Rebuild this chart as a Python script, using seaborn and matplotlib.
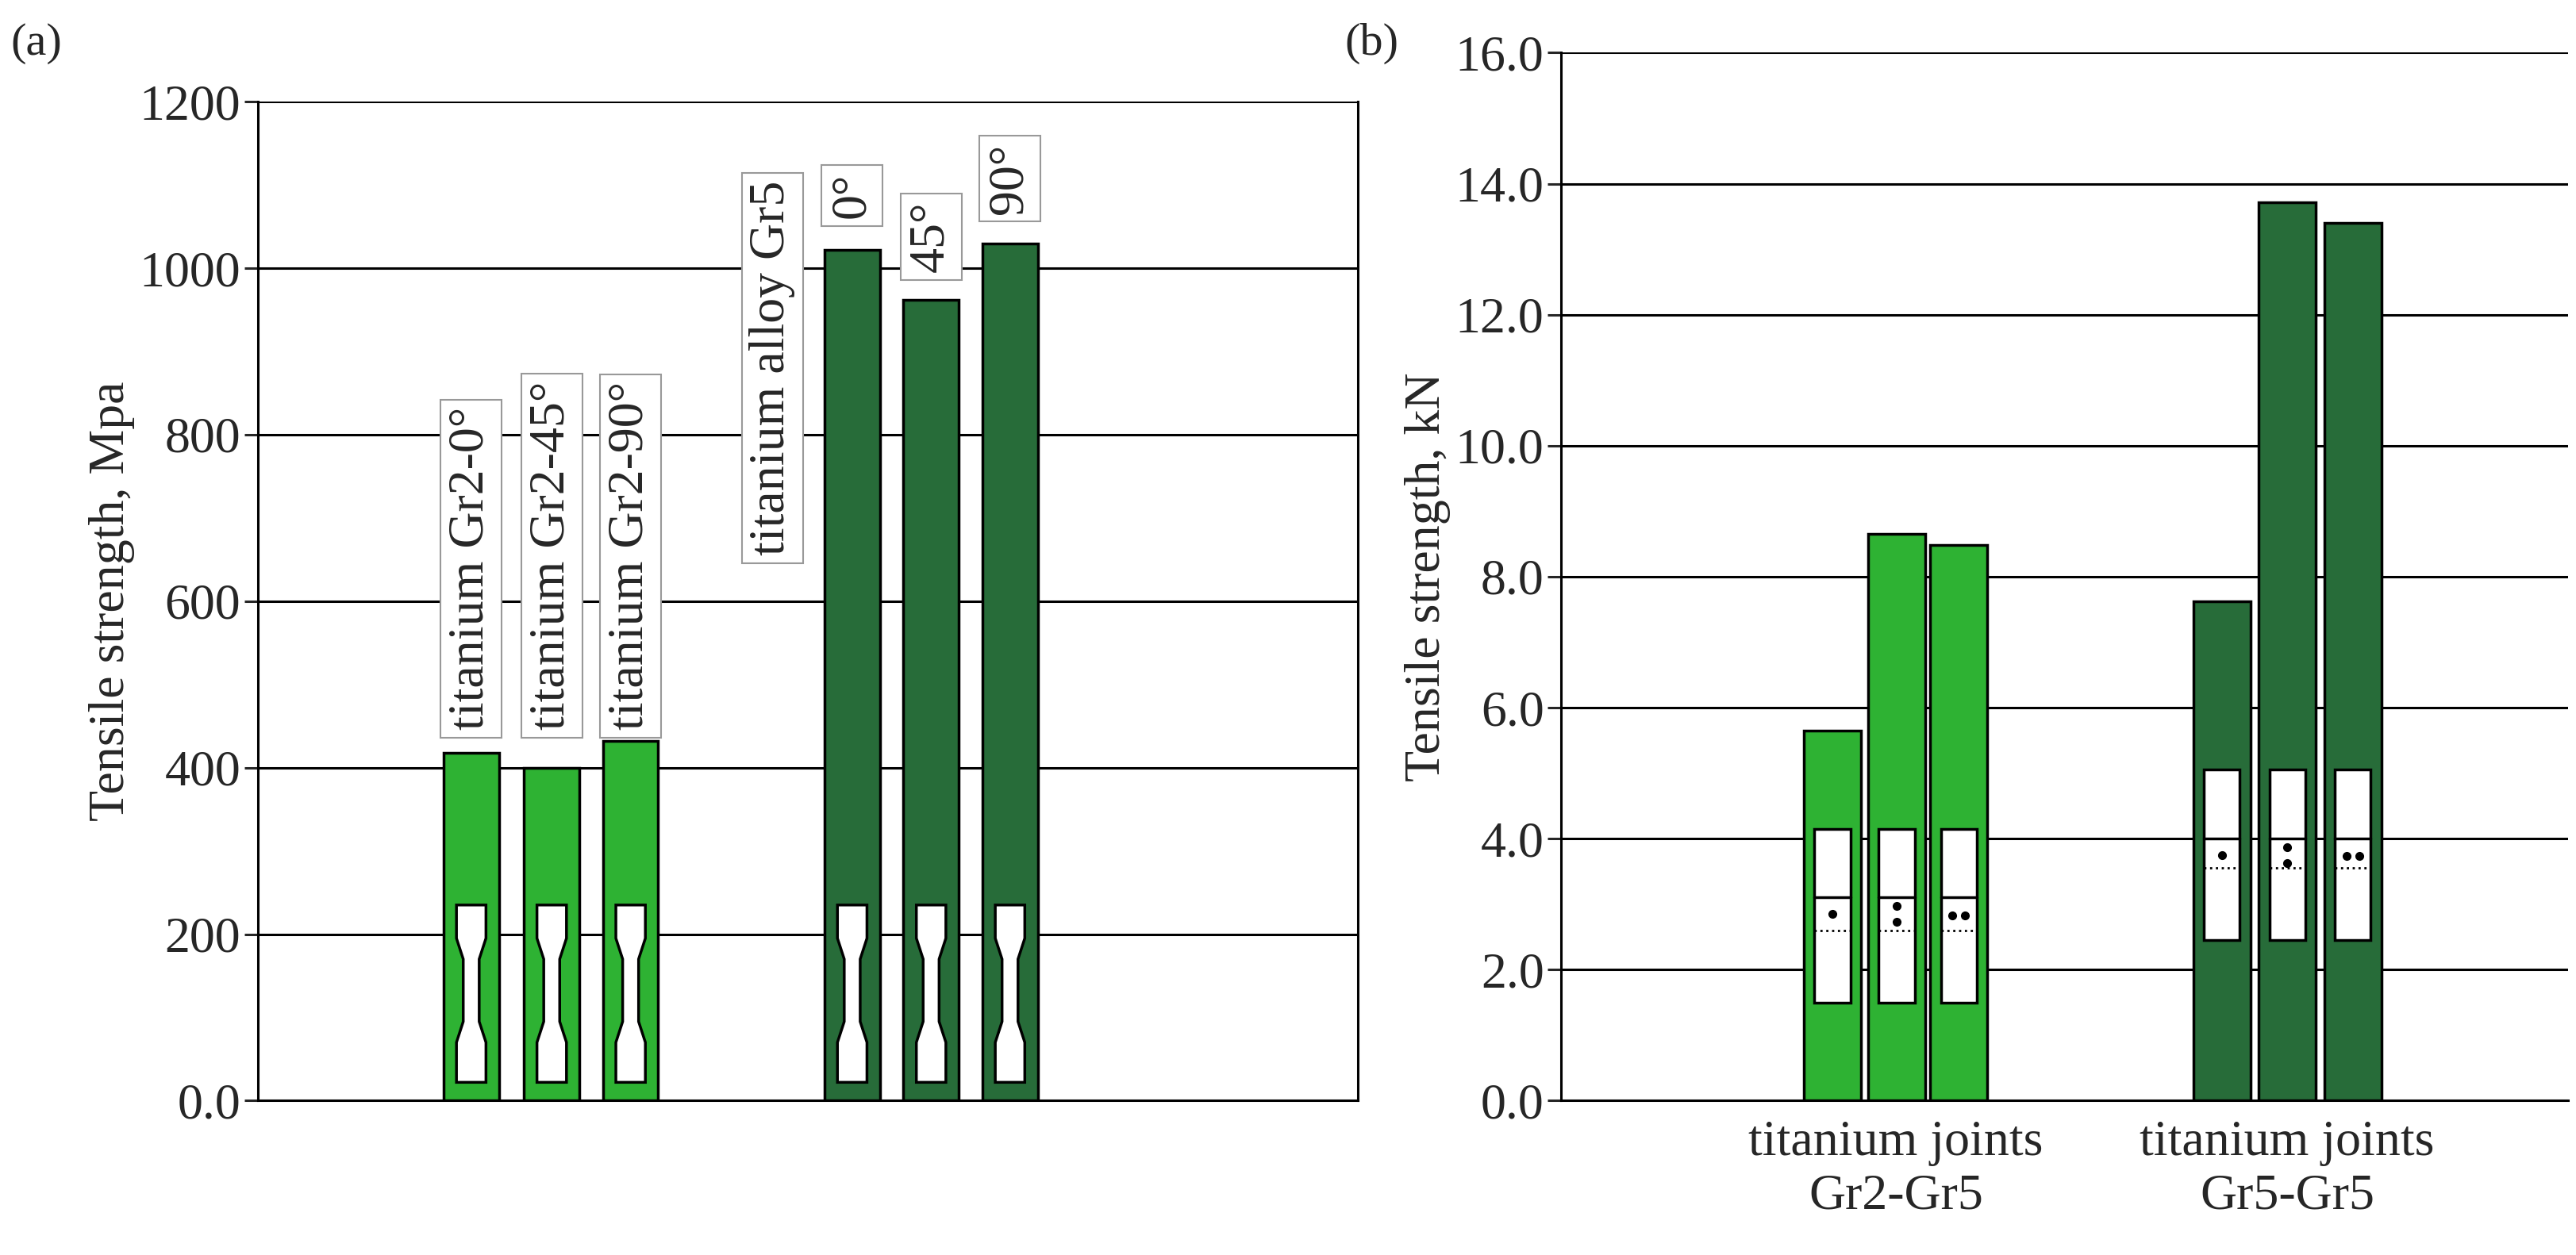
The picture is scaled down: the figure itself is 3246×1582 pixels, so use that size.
import numpy as np
import pandas as pd
import seaborn as sns
import matplotlib.pyplot as plt
from matplotlib.patches import Polygon, Rectangle

# data
a_labels = ["titanium Gr2-0°", "titanium Gr2-45°", "titanium Gr2-90°", "0°", "45°", "90°"]
a_values = [418, 400, 432, 1022, 962, 1030]
a_group = ["Gr2", "Gr2", "Gr2", "Gr5", "Gr5", "Gr5"]
b_groups = ["titanium joints\nGr2-Gr5", "titanium joints\nGr5-Gr5"]
b_values = [5.65, 8.65, 8.48, 7.62, 13.72, 13.4]
b_group = ["Gr2", "Gr2", "Gr2", "Gr5", "Gr5", "Gr5"]

LIGHT = "#18C81E"
DARK = "#1B7834"
colors = {"Gr2": LIGHT, "Gr5": DARK}

sns.set_style("white")
plt.rcParams['font.family'] = ['Liberation Serif', 'DejaVu Serif']
FS = 46

fig = plt.figure(figsize=(32.46, 15.82), dpi=100)
ax1 = fig.add_axes([0.100, 0.123, 0.427, 0.796])
ax2 = fig.add_axes([0.606, 0.123, 0.391, 0.835])

# layout positions
a_pos = [2.68, 3.69, 4.68, 7.46, 8.45, 9.44]
b_pos = [4.23, 5.23, 6.2, 10.3, 11.32, 12.34]

df_a = pd.DataFrame({"x": a_pos, "y": a_values, "g": a_group})
df_b = pd.DataFrame({"x": b_pos, "y": b_values, "g": b_group})

sns.barplot(data=df_a, x="x", y="y", hue="g", palette=colors, native_scale=True,
            width=0.7, edgecolor="black", linewidth=2.5, legend=False, ax=ax1, zorder=3)
sns.barplot(data=df_b, x="x", y="y", hue="g", palette=colors, native_scale=True,
            width=0.92, edgecolor="black", linewidth=2.5, legend=False, ax=ax2, zorder=3)

for ax in (ax1, ax2):
    ax.set_xlabel("")
    ax.yaxis.grid(True, color="black", linewidth=2.2, zorder=0)
    ax.set_axisbelow(True)
    for s in ax.spines.values():
        s.set_color("black")
        s.set_linewidth(2.2)
    ax.tick_params(axis="y", direction="out", length=12, width=2.2, labelsize=FS, left=True)

# panel (a)
ax1.set_xlim(0, 13.8)
ax1.set_ylim(0, 1200)
ax1.set_yticks(range(0, 1201, 200))
ax1.set_yticklabels(["0.0"] + [str(v) for v in range(200, 1201, 200)])
ax1.set_xticks([])
ax1.spines["top"].set_visible(False)
ax1.set_ylabel("Tensile strength, Mpa", fontsize=FS)

for x in a_pos:
    hw, nw = 0.185, 0.1
    pts = [(x - hw, 22), (x + hw, 22), (x + hw, 70), (x + nw, 95), (x + nw, 170),
           (x + hw, 195), (x + hw, 235), (x - hw, 235), (x - hw, 195), (x - nw, 170),
           (x - nw, 95), (x - hw, 70)]
    ax1.add_patch(Polygon(pts, closed=True, facecolor="white", edgecolor="black",
                          linewidth=2.5, zorder=4))

box = dict(boxstyle="square,pad=0.15", facecolor="white", edgecolor="#999999", linewidth=1.5)
for x, lab in zip(a_pos[:3], a_labels[:3]):
    ax1.text(x, 445, lab, rotation=90, ha="center", va="bottom", fontsize=FS, bbox=box, zorder=5)
ax1.text(a_pos[3] - 1.0, 655, "titanium alloy Gr5", rotation=90, ha="center", va="bottom",
         fontsize=FS, bbox=box, zorder=5)
for x, lab, y in zip(a_pos[3:], a_labels[3:], [1060, 995, 1065]):
    ax1.text(x, y, lab, rotation=90, ha="center", va="bottom", fontsize=FS, bbox=box, zorder=5)

# panel (b)
ax2.set_xlim(0, 15.7)
ax2.set_ylim(0, 16)
ax2.set_yticks(np.arange(0, 16.1, 2))
ax2.set_yticklabels([f"{v:.1f}" for v in np.arange(0, 16.1, 2)])
ax2.set_xticks([np.mean(b_pos[:3]), np.mean(b_pos[3:])])
ax2.set_xticklabels(b_groups, fontsize=FS)
ax2.tick_params(axis="x", length=0, pad=18)
ax2.spines["top"].set_visible(False)
ax2.spines["right"].set_visible(False)
ax2.set_ylabel("Tensile strength, kN", fontsize=FS)

for i, x in enumerate(b_pos):
    lo, hi, mid, dot = (1.5, 4.15, 3.1, 2.6) if i < 3 else (2.45, 5.05, 4.0, 3.55)
    hw = 0.28
    ax2.add_patch(Rectangle((x - hw, lo), 2 * hw, hi - lo, facecolor="white",
                            edgecolor="black", linewidth=2.5, zorder=4))
    ax2.plot([x - hw, x + hw], [mid, mid], color="black", linewidth=2.5, zorder=5)
    ax2.plot([x - hw, x + hw], [dot, dot], color="black", linewidth=2, linestyle=":", zorder=5)
    k = i % 3
    if k == 0:
        dx, dy = [0], [mid - 0.25]
    elif k == 1:
        dx, dy = [0, 0], [mid - 0.13, mid - 0.37]
    else:
        dx, dy = [-0.1, 0.1], [mid - 0.27, mid - 0.27]
    ax2.plot([x + d for d in dx], dy, "o", color="black", markersize=7, zorder=6)

fig.text(0.004, 0.965, "(a)", fontsize=FS - 4, va="center")
fig.text(0.522, 0.965, "(b)", fontsize=FS - 4, va="center")

fig.savefig("out.png", dpi=100)
